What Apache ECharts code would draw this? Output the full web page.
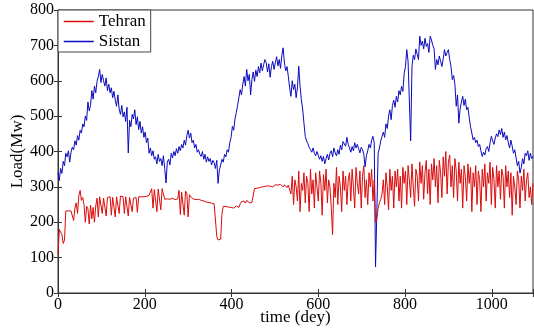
<!DOCTYPE html>
<html>
<head>
<meta charset="utf-8">
<script src="https://cdn.jsdelivr.net/npm/echarts@6/dist/echarts.min.js"></script>
<style>
html,body{margin:0;padding:0;background:#fff;}
#chart{width:534px;height:330px;}
</style>
</head>
<body>
<div id="chart"></div>
<script>
// sampling step in days between consecutive values
const STEP = 3;
const seriesNames = ['Tehran', 'Sistan'];
const xTicks = [0, 200, 400, 600, 800, 1000];
const yTicks = [0, 100, 200, 300, 400, 500, 600, 700, 800];

const sistan = [
340,318,352,338,372,360,395,385,402,370,
398,412,405,430,418,445,432,460,452,478,
470,500,488,540,515,530,572,548,585,566,
598,612,632,595,618,600,585,608,572,590,
566,580,552,570,545,528,560,520,505,530,
498,512,485,525,396,488,470,505,492,518,
476,498,462,485,452,470,440,455,425,438,
395,410,388,402,378,385,365,392,372,380,
360,388,352,311,370,378,362,395,382,400,
388,408,395,414,402,420,410,432,418,445,
460,438,452,425,432,410,420,398,405,392,
386,400,378,392,370,385,372,380,362,375,
368,352,375,310,348,362,378,370,392,385,
405,398,425,440,471,460,492,510,530,552,
575,560,590,612,585,632,600,618,560,603,
625,598,630,612,640,622,650,628,645,660,
651,625,648,610,640,655,632,651,668,642,
660,635,672,693,650,628,640,612,580,556,
600,575,590,552,580,641,585,546,520,480,
443,430,422,412,405,398,410,395,388,400,
395,378,388,372,386,365,380,392,376,395,
402,385,410,396,388,405,392,418,405,428,
433,415,440,420,410,398,414,402,425,410,
420,408,396,412,405,392,357,388,402,420,
410,432,443,425,74,230,395,410,430,443,
455,440,478,465,500,518,490,530,545,525,
556,540,572,560,584,570,620,640,688,655,
650,430,640,672,660,690,675,660,726,700,
712,690,720,697,705,680,726,715,700,690,
632,660,645,670,655,640,662,688,670,680,
688,660,640,603,615,590,528,560,480,520,
540,556,530,548,518,525,495,470,452,433,
440,425,432,414,420,402,386,398,390,408,
414,400,425,443,430,420,438,450,442,461,
448,465,440,455,433,445,425,410,432,415,
395,405,382,360,372,339,355,380,365,395,
388,402,375,395,380,386
];

const tehran = [
110,180,172,165,140,150,232,230,232,228,
232,230,205,240,255,225,275,290,262,270,
250,200,245,238,195,248,210,242,200,246,
268,215,272,270,225,268,272,218,270,265,
272,220,270,275,215,272,268,225,274,270,
272,225,272,270,218,270,272,230,268,272,
270,228,272,270,272,274,272,275,273,275,
276,280,295,240,292,296,230,294,298,235,
295,292,265,262,266,264,265,262,268,266,
264,268,266,290,222,285,280,220,288,282,
215,278,272,268,266,268,264,262,265,260,
262,258,260,256,257,254,256,252,254,250,
252,248,160,150,148,152,225,245,247,244,
246,243,245,242,244,240,243,246,244,242,
252,258,255,260,254,262,258,255,260,256,
258,295,298,296,300,298,302,300,298,301,
300,303,299,302,305,300,304,306,302,305,
303,307,304,300,306,302,298,305,300,280,
330,250,320,300,260,345,230,310,290,340,
255,330,310,230,350,280,320,240,340,300,
260,345,310,220,335,290,350,255,320,300,
240,165,310,270,355,250,330,300,230,345,
290,330,250,320,340,260,350,300,240,355,
310,280,345,240,330,360,270,320,250,340,
300,350,260,320,200,210,240,255,265,280,
320,250,340,300,235,350,290,330,240,345,
300,350,260,330,240,355,310,345,250,360,
320,270,365,300,245,350,330,260,370,310,
360,265,340,375,280,350,250,365,320,380,
300,360,255,375,340,270,385,330,400,280,
370,390,300,360,270,380,345,260,370,310,
350,240,360,330,260,365,310,355,230,340,
300,360,250,345,320,230,350,300,365,260,
340,310,370,250,355,320,240,360,300,345,
265,350,330,240,360,300,345,270,340,220,
330,300,250,345,320,240,330,290,350,260,
320,340,270,300,250,310
];

function toPairs(arr) { return arr.map((v, i) => [i * STEP, v]); }

const FONT = 'Liberation Serif';
const RED = '#dc0a0a';
const BLUE = '#0a0abe';
const chart = echarts.init(document.getElementById('chart'), null, {renderer: 'canvas'});
const axisCommon = {
  axisLine: {lineStyle: {color: '#333', width: 1}},
  axisTick: {inside: true, length: 4, lineStyle: {color: '#333'}},
  splitLine: {show: false}
};
chart.setOption({
  animation: false,
  color: [RED, BLUE],
  backgroundColor: '#fff',
  grid: {left: 58, right: 1, top: 10, bottom: 37, containLabel: false, outerBoundsMode: 'none',
    show: true, borderColor: '#333', borderWidth: 1, backgroundColor: 'transparent'},
  legend: {
    data: [
      {name: seriesNames[0], lineStyle: {color: RED, width: 1.5}},
      {name: seriesNames[1], lineStyle: {color: BLUE, width: 1.5}}
    ],
    orient: 'vertical',
    left: 58, top: 10,
    padding: [3, 5, 2, 5],
    itemGap: 3,
    itemWidth: 30, itemHeight: 14,
    itemStyle: {opacity: 0},
    backgroundColor: '#fff',
    borderColor: '#444', borderWidth: 1,
    textStyle: {fontFamily: FONT, fontSize: 17, color: '#000'}
  },
  xAxis: [
    Object.assign({}, axisCommon, {
      type: 'value', min: 0, max: 1095, interval: 200,
      axisLabel: {fontFamily: FONT, fontSize: 16, color: '#000', margin: 4,
        formatter: v => xTicks.includes(v) ? String(v) : ''},
      name: 'time (dey)', nameLocation: 'middle', nameGap: 16, nameMoveOverlap: false,
      nameTextStyle: {fontFamily: FONT, fontSize: 17, color: '#000'}
    }),
    Object.assign({}, axisCommon, {
      type: 'value', min: 0, max: 1095, interval: 200, position: 'top',
      axisLabel: {show: false}
    })
  ],
  yAxis: [
    Object.assign({}, axisCommon, {
      type: 'value', min: 0, max: 800, interval: 100,
      axisLabel: {fontFamily: FONT, fontSize: 16, color: '#000', margin: 4,
        formatter: v => yTicks.includes(v) ? String(v) : ''},
      name: 'Load(Mw)', nameLocation: 'middle', nameGap: 32, nameRotate: 90, nameMoveOverlap: false,
      nameTextStyle: {fontFamily: FONT, fontSize: 17, color: '#000'}
    }),
    Object.assign({}, axisCommon, {
      type: 'value', min: 0, max: 800, interval: 100, position: 'right',
      axisLabel: {show: false}
    })
  ],
  series: [
    {name: 'Tehran', type: 'line', color: RED, data: toPairs(tehran), showSymbol: false, symbol: 'none',
     lineStyle: {color: RED, width: 1}, itemStyle: {color: RED}, z: 3},
    {name: 'Sistan', type: 'line', color: BLUE, data: toPairs(sistan), showSymbol: false, symbol: 'none',
     lineStyle: {color: BLUE, width: 1}, itemStyle: {color: BLUE}, z: 2}
  ]
});
</script>
</body>
</html>
